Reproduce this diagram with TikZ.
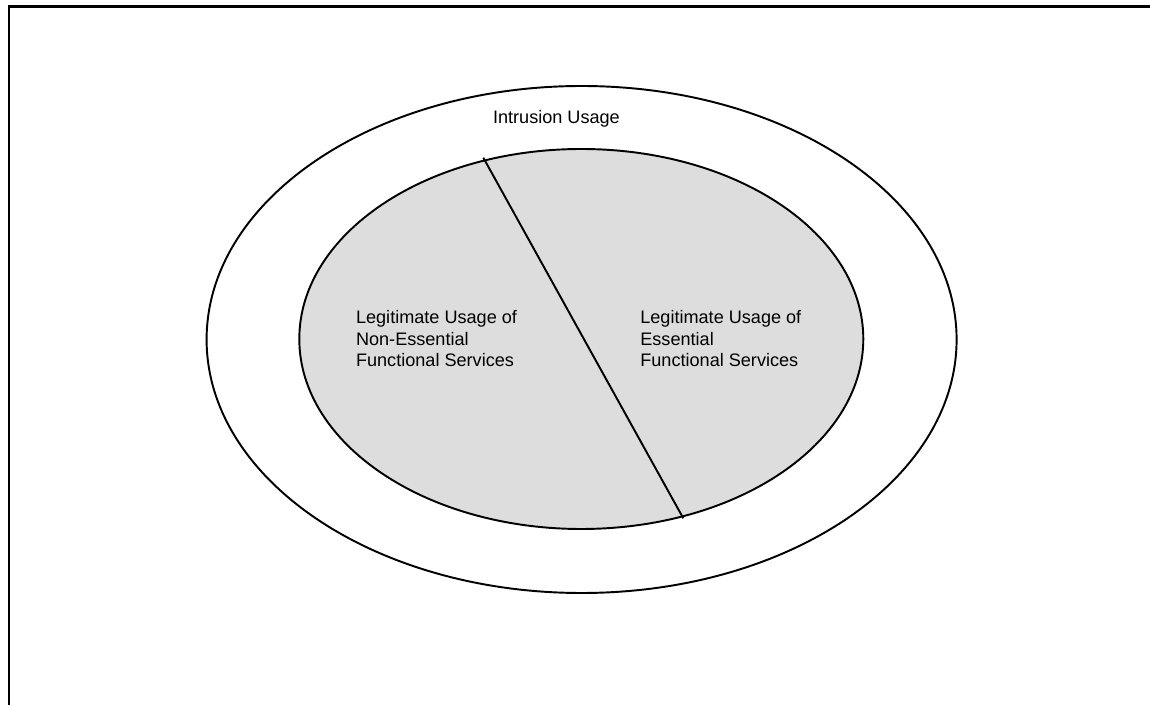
\documentclass[tikz,border=0pt]{standalone}
\usepackage{fontspec}
\setmainfont{Liberation Sans}
\usepackage{tikz}

\definecolor{usagefill}{HTML}{DDDDDD}

\tikzset{
  usagetext/.style={align=left, inner sep=0pt, font=\fontsize{10.3}{12.2}\selectfont},
}

\begin{document}
\begin{tikzpicture}[x=0.02cm, y=-0.02cm]
        \useasboundingbox (0,0) rectangle (1150,705);

        % Frame (top and left edges only)
        \draw[line width=1.4pt] (1150,6.5) -- (8.8,6.5) -- (8.8,705);

        % Outer ellipse: all usage
        \draw[line width=1.1pt] (581.6,339.5) ellipse [x radius=375, y radius=253.5];

        % Inner ellipse: legitimate usage
        \draw[line width=1.1pt, fill=usagefill] (581.3,339) ellipse [x radius=282, y radius=190];

        % Divider between the two kinds of legitimate usage
        \coordinate (cuttop) at (483.3,157.7);
        \coordinate (cutbot) at (683.3,518.3);
        \draw[line width=1.1pt] (cuttop) -- (cutbot);

        % Labels
        \node[anchor=base west, inner sep=0pt, font=\fontsize{10.3}{12.2}\selectfont] (intrusion) at (492.7,123.3) {Intrusion Usage};
        \node[usagetext, anchor=north west] (nonessential) at (355.7,310.5)
            {Legitimate Usage of\\Non-Essential\\Functional Services};
        \node[usagetext, anchor=north west] (essential) at (640,310.5)
            {Legitimate Usage of\\Essential\\Functional Services};
    \end{tikzpicture}
\end{document}
